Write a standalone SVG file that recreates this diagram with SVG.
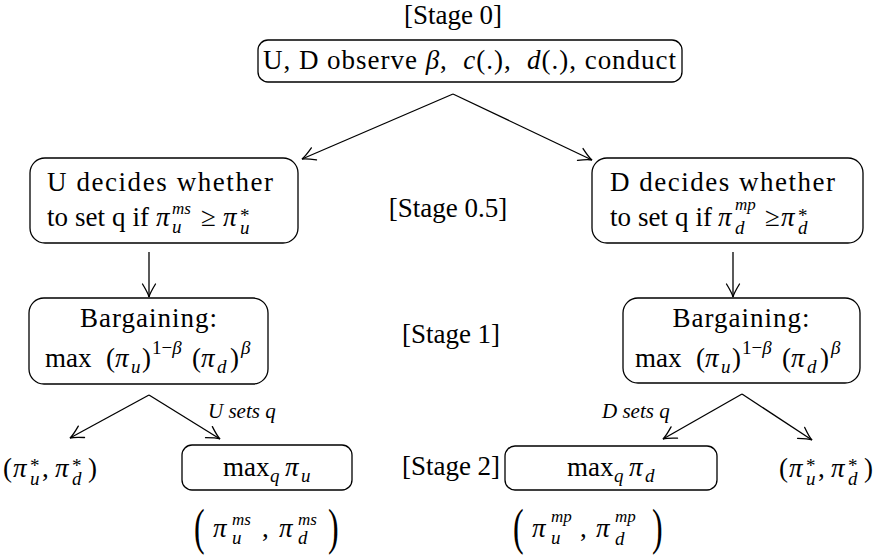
<svg xmlns="http://www.w3.org/2000/svg" width="881" height="556" viewBox="0 0 881 556">
<defs>
<style>
.t{font-family:"Liberation Serif","Times New Roman",serif;font-size:27px;fill:#000}
.i{font-style:italic}
.s{font-size:19px;font-style:italic}
.su{font-size:19px;font-style:normal}
.big{font-family:"Liberation Serif","Times New Roman",serif;font-size:32px;fill:#000}
.lbl{font-family:"Liberation Serif","Times New Roman",serif;font-size:21px;font-style:italic;fill:#000}
.box{fill:none;stroke:#000;stroke-width:1.3}
.edge{fill:none;stroke:#000;stroke-width:1.3;marker-end:url(#ah)}
</style>
<marker id="ah" viewBox="-15 -8 17 16" refX="0" refY="0" markerWidth="17" markerHeight="16" orient="auto" markerUnits="userSpaceOnUse">
<path d="M-13,-6.5 Q-4,-1 0,0 Q-4,1 -13,6.5" fill="none" stroke="#000" stroke-width="1.3" stroke-linecap="round"/>
</marker>
</defs>
<rect x="0" y="0" width="881" height="556" fill="#fff"/>

<g id="edges">
<path class="edge" d="M453,94 L302,159"/>
<path class="edge" d="M453,94 L592,160"/>
<path class="edge" d="M149,252 L149,297"/>
<path class="edge" d="M733,252 L733,297"/>
<path class="edge" d="M149,395 L70,438"/>
<path class="edge" d="M149,395 L220,439"/>
<path class="edge" d="M742,394 L663,439"/>
<path class="edge" d="M742,394 L812,440"/>
<text class="lbl" x="208" y="418">U sets q</text>
<text class="lbl" x="602" y="418">D sets q</text>
</g>

<g id="stage-labels">
<text class="t" x="453" y="24" text-anchor="middle">[Stage 0]</text>
<text class="t" x="448" y="217" text-anchor="middle">[Stage 0.5]</text>
<text class="t" x="451" y="343" text-anchor="middle">[Stage 1]</text>
<text class="t" x="451" y="475" text-anchor="middle">[Stage 2]</text>
</g>

<g id="observe">
<rect class="box" x="258" y="40" width="424" height="42" rx="10"/>
<text class="t" x="263" y="69" textLength="413" lengthAdjust="spacing">U, D observe <tspan class="i">β</tspan>,&#160; <tspan class="i">c</tspan>(.),&#160; <tspan class="i">d</tspan>(.), conduct</text>
</g>

<g id="u-decides">
<rect class="box" x="30" y="158" width="268" height="85" rx="15"/>
<text class="t" x="47" y="191" textLength="226" lengthAdjust="spacing">U decides whether</text>
<text class="t" x="47" y="226" textLength="102" lengthAdjust="spacing">to set q if</text>
<text class="t"><tspan class="i" x="156" y="226">π</tspan><tspan class="s" x="172" y="214" style="font-size:17px">ms</tspan><tspan class="s" x="172" y="233">u</tspan><tspan x="201" y="226">≥</tspan><tspan class="i" x="223" y="226">π</tspan><tspan class="su" x="240" y="222">*</tspan><tspan class="s" x="240" y="234">u</tspan></text>
</g>

<g id="d-decides">
<rect class="box" x="592" y="158" width="271" height="85" rx="15"/>
<text class="t" x="610" y="191" textLength="225" lengthAdjust="spacing">D decides whether</text>
<text class="t" x="610" y="226" textLength="102" lengthAdjust="spacing">to set q if</text>
<text class="t"><tspan class="i" x="718" y="226">π</tspan><tspan class="s" x="735" y="210" style="font-size:17px">mp</tspan><tspan class="s" x="735" y="234">d</tspan><tspan x="765" y="226">≥</tspan><tspan class="i" x="781" y="226">π</tspan><tspan class="su" x="798" y="222">*</tspan><tspan class="s" x="798" y="234">d</tspan></text>
</g>

<g id="bargain-left">
<rect class="box" x="29" y="298" width="239" height="86" rx="15"/>
<text class="t" x="148.5" y="327" text-anchor="middle" textLength="137" lengthAdjust="spacing">Bargaining:</text>
<text class="t"><tspan x="45" y="367">max</tspan><tspan x="106" y="367">(</tspan><tspan class="i" x="115" y="367">π</tspan><tspan class="s" x="131" y="373">u</tspan><tspan x="142" y="367">)</tspan><tspan class="su" x="152" y="354">1−<tspan class="i">β</tspan></tspan><tspan x="192" y="367">(</tspan><tspan class="i" x="201" y="367">π</tspan><tspan class="s" x="217" y="373">d</tspan><tspan x="230" y="367">)</tspan><tspan class="s" x="241" y="354">β</tspan></text>
</g>

<g id="bargain-right">
<rect class="box" x="623" y="298" width="237" height="85" rx="15"/>
<text class="t" x="741" y="327" text-anchor="middle" textLength="137" lengthAdjust="spacing">Bargaining:</text>
<text class="t"><tspan x="635" y="367">max</tspan><tspan x="696" y="367">(</tspan><tspan class="i" x="705" y="367">π</tspan><tspan class="s" x="721" y="373">u</tspan><tspan x="732" y="367">)</tspan><tspan class="su" x="742" y="354">1−<tspan class="i">β</tspan></tspan><tspan x="782" y="367">(</tspan><tspan class="i" x="791" y="367">π</tspan><tspan class="s" x="807" y="373">d</tspan><tspan x="820" y="367">)</tspan><tspan class="s" x="831" y="354">β</tspan></text>
</g>

<g id="default-left">
<text class="t"><tspan x="3" y="477">(</tspan><tspan class="i" x="13" y="477">π</tspan><tspan class="su" x="30" y="472">*</tspan><tspan class="s" x="30" y="485">u</tspan><tspan x="42" y="477">,</tspan><tspan class="i" x="55" y="477">π</tspan><tspan class="su" x="72" y="472">*</tspan><tspan class="s" x="72" y="485">d</tspan><tspan x="88" y="477">)</tspan></text>
</g>

<g id="u-sets">
<rect class="box" x="182" y="445" width="170" height="45" rx="10"/>
<text class="t"><tspan x="223" y="476">max</tspan><tspan class="s" x="270" y="482">q</tspan><tspan class="i" x="285" y="476">π</tspan><tspan class="s" x="301" y="482">u</tspan></text>
</g>

<g id="ms-payoff">
<text class="big" transform="translate(194,544) scale(1,1.55)">(</text>
<text class="t"><tspan class="i" x="213" y="537">π</tspan><tspan class="s" x="232" y="525" style="font-size:17px">ms</tspan><tspan class="s" x="232" y="544">u</tspan><tspan x="262" y="537">,</tspan><tspan class="i" x="279" y="537">π</tspan><tspan class="s" x="298" y="525" style="font-size:17px">ms</tspan><tspan class="s" x="298" y="544">d</tspan></text>
<text class="big" transform="translate(328,544) scale(1,1.55)">)</text>
</g>

<g id="d-sets">
<rect class="box" x="505" y="446" width="212" height="44" rx="10"/>
<text class="t"><tspan x="567" y="476">max</tspan><tspan class="s" x="614" y="482">q</tspan><tspan class="i" x="629" y="476">π</tspan><tspan class="s" x="645" y="482">d</tspan></text>
</g>

<g id="mp-payoff">
<text class="big" transform="translate(513,544) scale(1,1.55)">(</text>
<text class="t"><tspan class="i" x="532" y="537">π</tspan><tspan class="s" x="551" y="522" style="font-size:17px">mp</tspan><tspan class="s" x="551" y="544">u</tspan><tspan x="580" y="537">,</tspan><tspan class="i" x="596" y="537">π</tspan><tspan class="s" x="615" y="522" style="font-size:17px">mp</tspan><tspan class="s" x="615" y="545">d</tspan></text>
<text class="big" transform="translate(652,544) scale(1,1.55)">)</text>
</g>

<g id="default-right">
<text class="t"><tspan x="779" y="477">(</tspan><tspan class="i" x="789" y="477">π</tspan><tspan class="su" x="806" y="472">*</tspan><tspan class="s" x="806" y="485">u</tspan><tspan x="818" y="477">,</tspan><tspan class="i" x="831" y="477">π</tspan><tspan class="su" x="848" y="472">*</tspan><tspan class="s" x="848" y="485">d</tspan><tspan x="864" y="477">)</tspan></text>
</g>
</svg>
